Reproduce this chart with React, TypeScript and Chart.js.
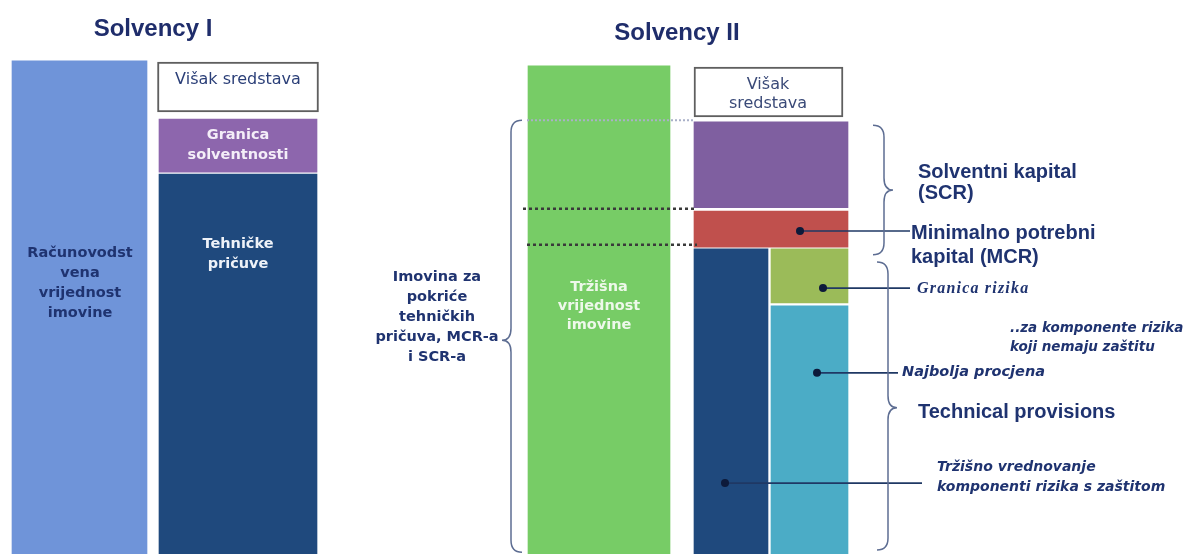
import React, { useEffect, useRef } from "react";
import { Chart, registerables } from "chart.js";

Chart.register(...registerables);

// ---------- DATA (relative balance-sheet heights, 0–100) ----------
const blockNames = [
  "Računovodstvena vrijednost imovine",
  "Višak sredstava (Solvency I)",
  "Granica solventnosti",
  "Tehničke pričuve",
  "Tržišna vrijednost imovine",
  "Višak sredstava (Solvency II)",
  "Solventni kapital (SCR)",
  "Minimalno potrebni kapital (MCR)",
  "Tržišno vrednovanje komponenti rizika s zaštitom",
  "Granica rizika",
  "Najbolja procjena",
];
const blockLow = [0, 79.8, 68.9, 0, 0, 78.9, 62.5, 55.4, 0, 45.3, 0];
const blockHigh = [89.0, 88.8, 78.5, 68.6, 88.1, 87.9, 78.0, 61.9, 55.1, 55.1, 44.8];

// threshold levels (dotted guide lines) and leader anchors
const guideLevels = [78.3, 62.3, 55.8];
const leaderLevels = [58.3, 48.0, 32.7, 12.8];

// ---------- LAYOUT (diagram x-units) ----------
const blockCenter = [79.5, 238, 238, 238, 599, 768.5, 771, 771, 731, 809.5, 809.5];
const blockWidth = [135, 161, 158, 158, 142, 149, 154, 154, 74, 77, 77];
const guideFrom = [527, 523, 527];
const guideTo = [694, 694, 697];
const leaderFrom = [800, 823, 817, 725];
const leaderTo = [910, 910, 898, 922];

// ---------- STYLE ----------
const NAVY = "#1f3370";
const blockFill = [
  "#6f94d9", "#ffffff", "#8d66ad", "#1f497d", "#77cc66", "#ffffff",
  "#7f5fa0", "#c0504d", "#1f497d", "#9bbb59", "#4bacc6",
];
const blockBorder = [0, 2, 0, 0, 0, 2, 0, 0, 0, 0, 0];
const guideStyle = [
  { color: "#a9b0c8", dash: [2, 2], width: 2 },
  { color: "#3a3a3a", dash: [3, 3], width: 2.5 },
  { color: "#3a3a3a", dash: [3, 3], width: 2.5 },
];

const SANS = "'DejaVu Sans'";
const ARIAL = "'Liberation Sans'";

type TextItem = {
  lines: string[];
  x: number;
  y: number;
  lh?: number;
  font: string;
  color: string;
  align?: CanvasTextAlign;
  spacing?: string;
};

const texts: TextItem[] = [
  { lines: ["Solvency I"], x: 153, y: 29, font: `bold 24px ${ARIAL}`, color: "#1f2d6b", align: "center" },
  { lines: ["Solvency II"], x: 677, y: 33, font: `bold 24px ${ARIAL}`, color: "#1f2d6b", align: "center" },
  { lines: ["Računovodst", "vena", "vrijednost", "imovine"], x: 80, y: 253, lh: 20, font: `bold 14.5px ${SANS}`, color: NAVY, align: "center" },
  { lines: ["Višak sredstava"], x: 238, y: 80, font: `16px ${SANS}`, color: "#2b3f78", align: "center" },
  { lines: ["Granica", "solventnosti"], x: 238, y: 135, lh: 20, font: `bold 14.5px ${SANS}`, color: "#f4eef8", align: "center" },
  { lines: ["Tehničke", "pričuve"], x: 238, y: 244, lh: 20, font: `bold 14.5px ${SANS}`, color: "#eef2f8", align: "center" },
  { lines: ["Tržišna", "vrijednost", "imovine"], x: 599, y: 287, lh: 19, font: `bold 14.5px ${SANS}`, color: "#eef8ea", align: "center" },
  { lines: ["Višak", "sredstava"], x: 768, y: 85, lh: 19, font: `16px ${SANS}`, color: "#3a4a78", align: "center" },
  { lines: ["Imovina za", "pokriće", "tehničkih", "pričuva, MCR-a", "i SCR-a"], x: 437, y: 277, lh: 20, font: `bold 14.5px ${SANS}`, color: NAVY, align: "center" },
  { lines: ["Solventni kapital", "(SCR)"], x: 918, y: 172, lh: 21, font: `bold 20px ${ARIAL}`, color: NAVY },
  { lines: ["Minimalno potrebni", "kapital (MCR)"], x: 911, y: 233, lh: 24, font: `bold 20px ${ARIAL}`, color: NAVY },
  { lines: ["Granica rizika"], x: 917, y: 289, font: `italic bold 16px 'Liberation Serif'`, color: NAVY, spacing: "1.2px" },
  { lines: ["..za komponente rizika", "koji nemaju zaštitu"], x: 1010, y: 328, lh: 19, font: `italic bold 13.5px ${SANS}`, color: NAVY },
  { lines: ["Najbolja procjena"], x: 902, y: 372, font: `italic bold 14.5px ${SANS}`, color: NAVY },
  { lines: ["Technical provisions"], x: 918, y: 412, font: `bold 20px ${ARIAL}`, color: NAVY },
  { lines: ["Tržišno vrednovanje", "komponenti rizika s zaštitom"], x: 937, y: 467, lh: 20, font: `italic bold 14px ${SANS}`, color: NAVY },
];

// braces: x of ends, direction of tip, top/bottom level, tip level
const braces = [
  { x: 522, dir: -1, top: 78.3, bottom: 0.3, tip: 38.6 },
  { x: 873, dir: 1, top: 77.4, bottom: 54.0, tip: 65.7 },
  { x: 877, dir: 1, top: 52.7, bottom: 0.7, tip: 26.4 },
];

function drawBrace(ctx: CanvasRenderingContext2D, xe: number, dir: number, y0: number, ym: number, y1: number) {
  const spine = xe + dir * 11;
  const tip = xe + dir * 20;
  const r = 12;
  ctx.beginPath();
  ctx.moveTo(xe, y0);
  ctx.quadraticCurveTo(spine, y0, spine, y0 + r);
  ctx.lineTo(spine, ym - r);
  ctx.quadraticCurveTo(spine, ym, tip, ym);
  ctx.quadraticCurveTo(spine, ym, spine, ym + r);
  ctx.lineTo(spine, y1 - r);
  ctx.quadraticCurveTo(spine, y1, xe, y1);
  ctx.stroke();
}

const annotationPlugin = {
  id: "diagramAnnotations",
  afterDatasetsDraw(chart: any) {
    const ctx: CanvasRenderingContext2D = chart.ctx;
    const xs = chart.scales.x;
    const ys = chart.scales.y;
    ctx.save();
    ctx.strokeStyle = "#5d6d92";
    ctx.lineWidth = 1.5;
    braces.forEach((b) => {
      drawBrace(ctx, xs.getPixelForValue(b.x), b.dir, ys.getPixelForValue(b.top), ys.getPixelForValue(b.tip), ys.getPixelForValue(b.bottom));
    });
    ctx.textBaseline = "middle";
    texts.forEach((t) => {
      ctx.font = t.font;
      ctx.fillStyle = t.color;
      ctx.textAlign = t.align || "left";
      (ctx as any).letterSpacing = t.spacing || "0px";
      t.lines.forEach((line, i) => {
        ctx.fillText(line, xs.getPixelForValue(t.x), t.y + i * (t.lh || 20));
      });
    });
    ctx.restore();
  },
};

export default function App() {
  const ref = useRef<HTMLCanvasElement>(null);
  useEffect(() => {
    const barSets = blockNames.map((name, i) => ({
      type: "bar" as const,
      label: name,
      data: [{ x: blockCenter[i], y: [blockLow[i], blockHigh[i]] }],
      backgroundColor: blockFill[i],
      borderColor: "#5f5f5f",
      borderWidth: blockBorder[i],
      borderSkipped: false,
      barThickness: blockWidth[i],
      grouped: false,
      order: 2,
    }));
    const guideSets = guideLevels.map((lvl, i) => ({
      type: "line" as const,
      label: `guide ${i}`,
      data: [
        { x: guideFrom[i], y: lvl },
        { x: guideTo[i], y: lvl },
      ],
      borderColor: guideStyle[i].color,
      borderDash: guideStyle[i].dash,
      borderWidth: guideStyle[i].width,
      pointRadius: 0,
      order: 0,
    }));
    const leaderSets = leaderLevels.map((lvl, i) => ({
      type: "line" as const,
      label: `leader ${i}`,
      data: [
        { x: leaderFrom[i], y: lvl },
        { x: leaderTo[i], y: lvl },
      ],
      borderColor: "#1f3864",
      borderWidth: 1.6,
      pointRadius: [4, 0],
      pointBackgroundColor: "#0d1a3a",
      pointBorderWidth: 0,
      order: 0,
    }));
    const chart = new Chart(ref.current as HTMLCanvasElement, {
      type: "bar",
      data: { datasets: [...guideSets, ...leaderSets, ...barSets] as any },
      options: {
        animation: false,
        responsive: true,
        maintainAspectRatio: false,
        layout: { padding: 0, autoPadding: false },
        plugins: { legend: { display: false }, tooltip: { enabled: false } },
        events: [],
        scales: {
          x: { type: "linear", min: 0, max: 1195, offset: false, display: false },
          y: { type: "linear", min: 0, max: 100, display: false },
        },
      },
      plugins: [annotationPlugin],
    });
    return () => chart.destroy();
  }, []);
  return (
    <div style={{ position: "absolute", left: 0, top: 0, width: 1195, height: 554, background: "#ffffff" }}>
      <canvas ref={ref} />
    </div>
  );
}
